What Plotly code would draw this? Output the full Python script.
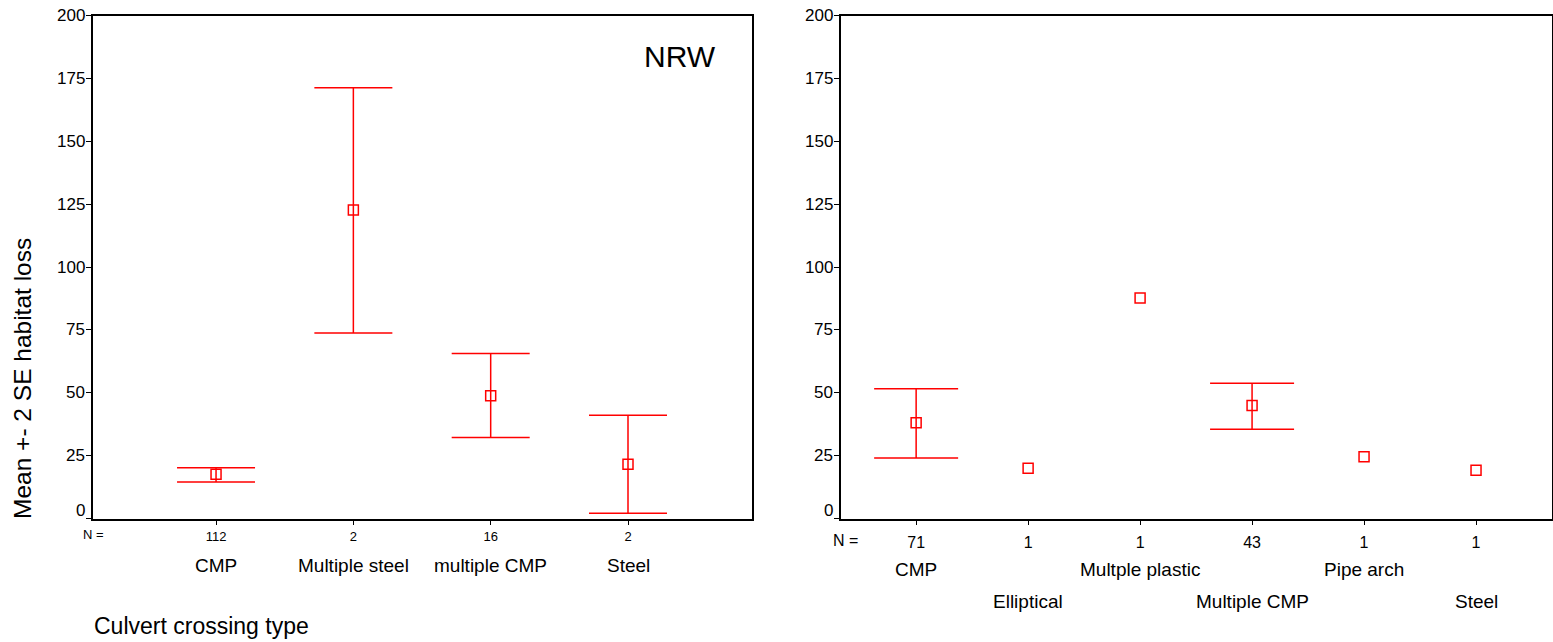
import plotly.graph_objects as go

# ---------------- data ----------------
left_cats = ["CMP", "Multiple steel", "multiple CMP", "Steel"]
left_n = ["112", "2", "16", "2"]
left_mean = [17.6, 122.7, 48.8, 21.6]
left_upper = [20.2, 171.3, 65.6, 41.1]
left_lower = [14.5, 73.8, 32.2, 2.1]

right_cats = ["CMP", "Elliptical", "Multple plastic", "Multiple CMP", "Pipe arch", "Steel"]
right_n = ["71", "1", "1", "43", "1", "1"]
right_mean = [38.1, 20.0, 87.7, 44.9, 24.6, 19.2]
right_upper = [51.6, None, None, 53.8, None, None]
right_lower = [24.1, None, None, 35.5, None, None]

y_ticks = [0, 25, 50, 75, 100, 125, 150, 175, 200]

FONT = "Liberation Sans, Arial, Helvetica, sans-serif"
RED = "#ff0000"
W, H = 1553, 642


def add_panel(fig, mean, upper, lower, xa, ya, capw):
    xs = list(range(len(mean)))
    # error bars only where an interval exists
    ex, ey, ep, em = [], [], [], []
    for i, (m, u, l) in enumerate(zip(mean, upper, lower)):
        if u is not None and l is not None:
            ex.append(i)
            ey.append(m)
            ep.append(u - m)
            em.append(m - l)
    fig.add_trace(go.Scatter(
        x=ex, y=ey, mode="markers", marker=dict(size=1, opacity=0, color=RED),
        error_y=dict(type="data", symmetric=False, array=ep, arrayminus=em,
                     color=RED, thickness=1.5, width=capw),
        xaxis=xa, yaxis=ya, showlegend=False, hoverinfo="skip"))
    fig.add_trace(go.Scatter(
        x=xs, y=mean, mode="markers",
        marker=dict(symbol="square-open", size=10, color=RED,
                    line=dict(width=1.5, color=RED)),
        xaxis=xa, yaxis=ya, showlegend=False, hoverinfo="skip"))


fig = go.Figure()
add_panel(fig, left_mean, left_upper, left_lower, "x", "y", 39)
add_panel(fig, right_mean, right_upper, right_lower, "x2", "y2", 42)

ydom = [(H - 518.5) / H, (H - 15.7) / H]
axis_common = dict(showgrid=False, zeroline=False, showline=True, mirror=True,
                   linecolor="black", linewidth=1.5, ticks="outside", ticklen=5,
                   tickcolor="black", tickwidth=1.2)

fig.update_layout(
    width=W, height=H,
    margin=dict(l=0, r=0, t=0, b=0),
    paper_bgcolor="white", plot_bgcolor="white",
    font=dict(family=FONT, color="black"),
    xaxis=dict(domain=[93 / W, 752 / W], range=[-0.896, 3.903],
               tickvals=list(range(len(left_cats))), ticktext=left_n,
               tickfont=dict(size=13), anchor="y", **axis_common),
    yaxis=dict(domain=ydom, range=[0, 200], tickvals=y_ticks,
               showticklabels=False, anchor="x", **axis_common),
    xaxis2=dict(domain=[841 / W, 1551.5 / W], range=[-0.671, 5.674],
                tickvals=list(range(len(right_cats))), ticktext=right_n,
                tickfont=dict(size=16), anchor="y2", ticklabelstandoff=4, **axis_common),
    yaxis2=dict(domain=ydom, range=[0, 200], tickvals=y_ticks,
                showticklabels=False, anchor="x2", **axis_common),
)

ann = []
# y tick labels (the "0" sits a little above the axis, as in the original)
for xr, yr in [("x domain", "y"), ("x2 domain", "y2")]:
    for v in y_ticks:
        ann.append(dict(text=str(v), xref=xr, x=0, xanchor="right", xshift=-6,
                        yref=yr, y=v, yanchor="middle",
                        yshift=8 if v == 0 else 0, showarrow=False,
                        font=dict(size=17)))

# "N =" labels
ann.append(dict(text="N =", xref="paper", x=93 / W, xanchor="center",
                yref="paper", y=(H - 534) / H, yanchor="middle", showarrow=False,
                font=dict(size=13)))
ann.append(dict(text="N =", xref="paper", x=845 / W, xanchor="center",
                yref="paper", y=(H - 540) / H, yanchor="middle", showarrow=False,
                font=dict(size=16)))

# category names
for i, c in enumerate(left_cats):
    ann.append(dict(text=c, xref="x", x=i, xanchor="center", yref="paper",
                    y=(H - 565) / H, yanchor="middle", showarrow=False,
                    font=dict(size=19)))
for i, c in enumerate(right_cats):
    ypix = 569 if i % 2 == 0 else 601
    ann.append(dict(text=c, xref="x2", x=i, xanchor="center", yref="paper",
                    y=(H - ypix) / H, yanchor="middle", showarrow=False,
                    font=dict(size=19)))

# titles
ann.append(dict(text="Culvert crossing type", xref="paper", x=92 / W, xanchor="left",
                yref="paper", y=(H - 626) / H, yanchor="middle", showarrow=False,
                font=dict(size=23)))
ann.append(dict(text="Mean +- 2 SE habitat loss", xref="paper", x=22 / W, xanchor="center",
                yref="paper", y=(H - 379) / H, yanchor="middle", textangle=-90,
                showarrow=False, font=dict(size=24.5)))
ann.append(dict(text="NRW", xref="paper", x=680 / W, xanchor="center",
                yref="paper", y=(H - 57) / H, yanchor="middle", showarrow=False,
                font=dict(size=30)))

fig.update_layout(annotations=ann)
fig.write_html(
    "out.html",
    config={"displayModeBar": False},
    post_script="document.body.style.margin='0';document.body.style.overflow='hidden';",
)
